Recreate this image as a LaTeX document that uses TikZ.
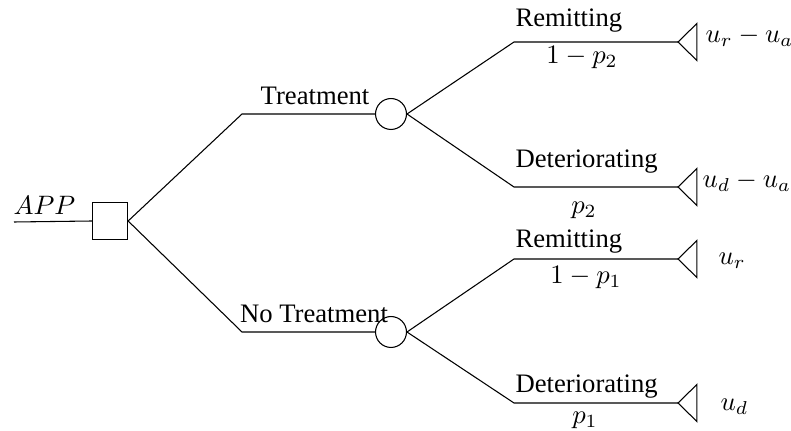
\documentclass[tikz,border=0pt]{standalone}
\usepackage[no-math]{fontspec}
\setmainfont{Liberation Serif}
\usetikzlibrary{shapes.geometric}

\begin{document}
\begin{tikzpicture}[x=0.375pt,y=-0.375pt,
    decisione/.style={draw,rectangle,minimum width=13.2pt,minimum height=14pt,inner sep=0pt},
    caso/.style={draw,circle,minimum size=11.6pt,inner sep=0pt},
    esito/.style={draw,isosceles triangle,isosceles triangle stretches,shape border rotate=180,
        minimum width=13.9pt,minimum height=7.1pt,inner sep=0pt,outer sep=0pt,anchor=apex},
    ramo/.style={anchor=base west,inner sep=0pt},
    prob/.style={anchor=base,inner sep=0pt},
    utile/.style={anchor=base west,inner sep=0pt}]
    \useasboundingbox (0,0) rectangle (791,431);

    % Nodo decisionale
    \coordinate (inizio) at (14,222);
    \node[decisione] (app) at (110,221) {};
    \node[anchor=base west,inner sep=0pt] (applab) at (13,215) {$APP$};
    \draw (inizio) -- (app.west);

    % Nodi di caso
    \coordinate (k1) at (242,114);
    \coordinate (k2) at (242,332);
    \node[caso] (c1) at (391,114) {};
    \node[caso] (c2) at (391,332) {};
    \draw (app.east) -- (k1) -- (c1.west);
    \draw (app.east) -- (k2) -- (c2.west);
    \node[anchor=base,inner sep=0pt] (tratt) at (315,105) {Treatment};
    \node[anchor=base,inner sep=0pt] (notratt) at (314,323) {No Treatment};

    % Esiti
    \coordinate (k3) at (514,42);
    \coordinate (k4) at (514,187);
    \coordinate (k5) at (514,259);
    \coordinate (k6) at (514,403);
    \node[esito] (t1) at (678,42) {};
    \node[esito] (t2) at (678,187) {};
    \node[esito] (t3) at (678,259) {};
    \node[esito] (t4) at (678,403) {};
    \draw (c1.east) -- (k3) -- (t1.apex);
    \draw (c1.east) -- (k4) -- (t2.apex);
    \draw (c2.east) -- (k5) -- (t3.apex);
    \draw (c2.east) -- (k6) -- (t4.apex);

    % Etichette dei rami
    \node[ramo] (r1) at (515,27) {Remitting};
    \node[ramo] (d1) at (515,168) {Deteriorating};
    \node[ramo] (r2) at (515,248) {Remitting};
    \node[ramo] (d2) at (515,393) {Deteriorating};
    \node[prob] (pr1) at (582,64) {$1-p_2$};
    \node[prob] (pd1) at (584,214) {$p_2$};
    \node[prob] (pr2) at (586,284) {$1-p_1$};
    \node[prob] (pd2) at (585,424) {$p_1$};

    % Utilita
    \node[utile] (u1) at (705,43) {$u_r-u_a$};
    \node[utile] (u2) at (702,188) {$u_d-u_a$};
    \node[utile] (u3) at (718,265) {$u_r$};
    \node[utile] (u4) at (720,411) {$u_d$};
\end{tikzpicture}
\end{document}
